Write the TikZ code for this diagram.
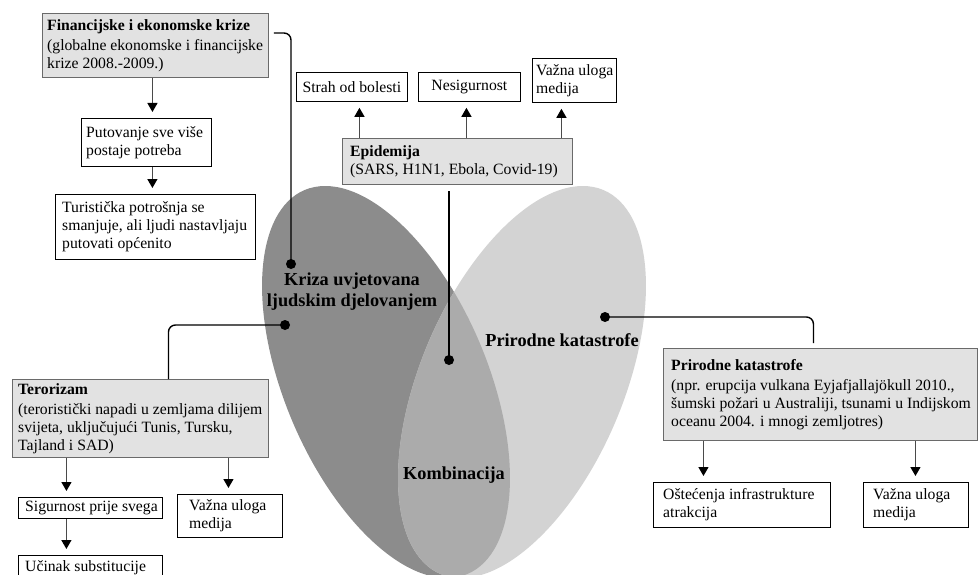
\documentclass[tikz,border=0pt]{standalone}
\usepackage{fontspec}
\setmainfont{Liberation Serif}
\usetikzlibrary{arrows.meta}
\definecolor{darkell}{HTML}{8C8C8C}
\definecolor{lightell}{HTML}{D3D3D3}
\definecolor{comboell}{HTML}{ABABAB}
\definecolor{boxgray}{HTML}{E2E2E2}
\definecolor{boxedge}{HTML}{6A6A6A}
\definecolor{arrgray}{HTML}{4A4A4A}
\begin{document}
\begin{tikzpicture}[x=1pt,y=1pt,
  wbox/.style={draw=black, line width=0.8pt, fill=white, inner sep=0pt, anchor=north west, rectangle},
  gbox/.style={draw=boxedge, line width=0.9pt, fill=boxgray, inner sep=0pt, anchor=north west, rectangle},
  txt/.style={font=\fontsize{15.7}{18}\selectfont, align=left, inner sep=0pt, anchor=west},
  ctxt/.style={font=\fontsize{15.7}{18}\selectfont, inner sep=0pt},
  lbl/.style={font=\fontsize{18.3}{21}\selectfont\bfseries, align=center, inner sep=0pt},
  arr/.style={draw=arrgray, line width=1.3pt, -{Triangle[width=10pt,length=9pt,color=black]}, shorten >=6pt},
  conn/.style={draw=black, line width=1.4pt, rounded corners=7pt},
  dotn/.style={circle, fill=black, inner sep=0pt, minimum size=10pt}]

\useasboundingbox (0,0) rectangle (979,-575);
\fill[white] (0,0) rectangle (979,-575);

% ellipses
\fill[darkell, cm={108,0,-60.8,196,(386,-382)}] (0,0) circle (1pt);
\fill[lightell, cm={108,0,60.8,196,(522,-382)}] (0,0) circle (1pt);
\begin{scope}
  \clip[cm={108,0,-60.8,196,(386,-382)}] (0,0) circle (1pt);
  \fill[comboell, cm={108,0,60.8,196,(522,-382)}] (0,0) circle (1pt);
\end{scope}

% boxes
\node[gbox, minimum width=226pt, minimum height=64pt] (fin) at (42,-13) {};
\node[txt] at ([xshift=5pt]fin.west) {\textbf{Financijske i ekonomske krize}\\[2pt](globalne ekonomske i financijske\\krize 2008.-2009.)};
\node[wbox, minimum width=130pt, minimum height=48pt] (put) at (81,-118) {};
\node[txt] at ([xshift=5pt]put.west) {Putovanje sve više\\postaje potreba};
\node[wbox, minimum width=200pt, minimum height=65pt] (tur) at (55,-194) {};
\node[txt] at ([xshift=7pt]tur.west) {Turistička potrošnja se\\smanjuje, ali ljudi nastavljaju\\putovati općenito};

\node[wbox, minimum width=111pt, minimum height=29pt] (strah) at (296,-72) {};
\node[ctxt] at (strah.center) {Strah od bolesti};
\node[wbox, minimum width=102pt, minimum height=29pt] (nes) at (418,-72) {};
\node[ctxt] at (nes.center) {Nesigurnost};
\node[wbox, minimum width=84pt, minimum height=44pt] (vaza) at (532,-58) {};
\node[txt] at ([xshift=4pt]vaza.west) {Važna uloga\\medija};
\node[gbox, minimum width=230pt, minimum height=46pt] (epi) at (342,-138) {};
\node[txt] at ([xshift=8pt]epi.west) {\textbf{Epidemija}\\(SARS, H1N1, Ebola, Covid-19)};

\node[gbox, minimum width=256pt, minimum height=78pt] (ter) at (12,-379) {};
\node[txt] at ([xshift=6pt]ter.west) {\textbf{Terorizam}\\[2pt](teroristički napadi u zemljama dilijem\\svijeta, uključujući Tunis, Tursku,\\Tajland i SAD)};
\node[wbox, minimum width=144pt, minimum height=21pt] (sig) at (18,-497) {};
\node[txt] at ([xshift=7pt]sig.west) {Sigurnost prije svega};
\node[wbox, minimum width=105pt, minimum height=43pt] (vazb) at (177,-494) {};
\node[txt] at ([xshift=12pt]vazb.west) {Važna uloga\\medija};
\node[wbox, minimum width=144pt, minimum height=24pt] (uc) at (18,-555) {};
\node[txt] at ([xshift=7pt]uc.west) {Učinak substitucije};

\node[gbox, minimum width=314pt, minimum height=92pt] (prir) at (663,-348) {};
\node[txt] at ([xshift=8pt]prir.west) {\textbf{Prirodne katastrofe}\\[2pt](npr. erupcija vulkana Eyjafjallajökull 2010.,\\šumski požari u Australiji, tsunami u Indijskom\\oceanu 2004. i mnogi zemljotres)};
\node[wbox, minimum width=177pt, minimum height=45pt] (ost) at (653,-482) {};
\node[txt] at ([xshift=10pt]ost.west) {Oštećenja infrastrukture\\atrakcija};
\node[wbox, minimum width=105pt, minimum height=45pt] (vazc) at (863,-482) {};
\node[txt] at ([xshift=10pt]vazc.west) {Važna uloga\\medija};

% arrows
\draw[arr] ([xshift=-3pt]fin.south) -- ([xshift=-3pt]fin.south |- put.north);
\draw[arr] ([xshift=6pt]put.south) -- ([xshift=6pt]put.south |- tur.north);
\draw[arr] ([xshift=-98pt]epi.north) -- ([xshift=-98pt]epi.north |- strah.south);
\draw[arr] ([xshift=9pt]epi.north) -- ([xshift=9pt]epi.north |- nes.south);
\draw[arr] ([xshift=104pt]epi.north) -- ([xshift=104pt]epi.north |- vaza.south);
\draw[arr] ([xshift=-74pt]ter.south) -- ([xshift=-74pt]ter.south |- sig.north);
\draw[arr] ([xshift=88pt]ter.south) -- ([xshift=88pt]ter.south |- vazb.north);
\draw[arr] ([xshift=-24pt]sig.south) -- ([xshift=-24pt]sig.south |- uc.north);
\draw[arr] ([xshift=-117pt]prir.south) -- ([xshift=-117pt]prir.south |- ost.north);
\draw[arr] ([xshift=95pt]prir.south) -- ([xshift=95pt]prir.south |- vazc.north);

% dots
\node[dotn] (d1) at (291,-264) {};
\node[dotn] (d2) at (285,-325) {};
\node[dotn] (d3) at (605,-317) {};
\node[dotn] (d4) at (449,-360) {};

% connectors
\draw[conn, shorten <=5pt] ([yshift=-20pt]fin.north east) -| (d1.center);
\draw[conn] ([xshift=28pt]ter.north) |- (d2.center);
\draw[conn, shorten >=5pt] (d3.center) -| ([xshift=-7pt]prir.north);
\draw[conn, shorten >=6pt] (d4.center) -- (d4 |- epi.south);

% ellipse labels
\node[lbl] (lk) at (352,-292) {Kriza uvjetovana\\ljudskim djelovanjem};
\node[lbl] (lp) at (562,-340) {Prirodne katastrofe};
\node[lbl] (lc) at (454,-475) {Kombinacija};
\end{tikzpicture}
\end{document}
